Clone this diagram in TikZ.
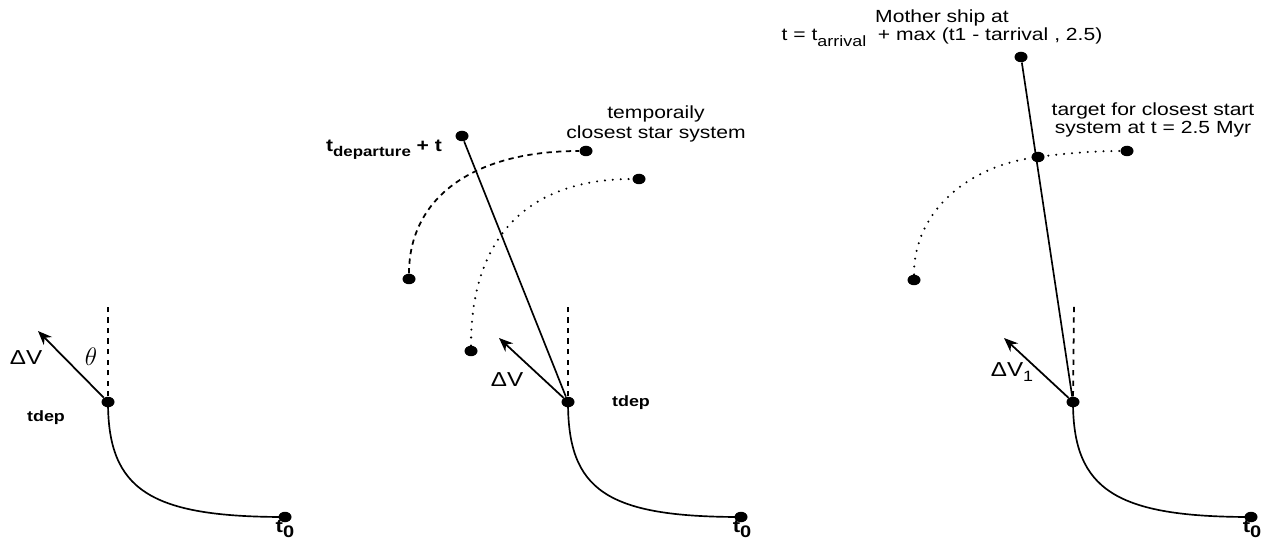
\documentclass[tikz,border=0pt]{standalone}
\usepackage{fontspec}
\setmainfont{Liberation Sans}[FakeStretch=1.2]
\usetikzlibrary{arrows.meta,shapes.geometric}
\newcommand{\lowsub}[2][8.5]{\raisebox{-3pt}{\fontsize{#1}{#1}\selectfont #2}}

\begin{document}
\begin{tikzpicture}[x=0.02cm,y=-0.02cm,
    dot/.style={ellipse,fill,inner sep=0pt,minimum width=0.26cm,minimum height=0.21cm},
    orbit/.style={line width=0.95pt},
    vec/.style={-{Stealth[length=8pt,width=6.5pt]},line width=1pt},
    vertical/.style={dashed,line width=1pt},
    dashedpath/.style={dash pattern=on 3pt off 2.5pt,line width=1pt},
    dottedpath/.style={line cap=round,dash pattern=on 0pt off 4.5pt,line width=1.3pt},
    lbl/.style={font=\fontsize{10}{10.5}\selectfont,align=center,inner sep=0pt},
    tlbl/.style={font=\bfseries\fontsize{8.5}{9}\selectfont,inner sep=0pt},
    zerolbl/.style={font=\bfseries\fontsize{10.5}{11}\selectfont,inner sep=0.5pt,anchor=south}]
    \useasboundingbox (0,0) rectangle (1270,540);

    % first panel
    \node[dot] (dep1) at (108,402) {};
    \node[dot] (start1) at (285,517) {};
    \coordinate (up1) at (108,303);
    \coordinate (tip1) at (38,331);
    \draw[orbit] (dep1.center) .. controls +(0,88) and +(-135,0) .. (start1.center);
    \draw[vertical] (dep1) -- (up1);
    \draw[vec] (dep1) -- (tip1);
    \node[lbl,font=\fontsize{11.5}{11}\selectfont] (dv1) at (26,358) {ΔV};
    \node[inner sep=0pt,font=\fontsize{14}{14}\selectfont] (theta) at (91,357) {$\theta$};
    \node[tlbl] (tdep1) at (46,418) {tdep};
    \node[zerolbl] (tzero1) at (285,539) {t\lowsub[9.5]{0}};

    % second panel
    \node[dot] (dep2) at (568,402) {};
    \node[dot] (start2) at (741,517) {};
    \node[dot] (top2) at (462,136) {};
    \node[dot] (nearA) at (409,279) {};
    \node[dot] (nearB) at (586,151) {};
    \node[dot] (farA) at (471,351) {};
    \node[dot] (farB) at (639,179) {};
    \coordinate (up2) at (568,303);
    \coordinate (tip2) at (499,338);
    \draw[orbit] (dep2.center) .. controls +(0,88) and +(-135,0) .. (start2.center);
    \draw[vertical] (dep2) -- (up2);
    \draw[vec] (dep2) -- (tip2);
    \draw[orbit] (dep2) -- (top2);
    \draw[dashedpath] (nearA) .. controls (409,200) and (470,151) .. (nearB);
    \draw[dottedpath] (farA) .. controls (471,235) and (530,179) .. (farB);
    \node[lbl,font=\fontsize{11.5}{11}\selectfont] (dv2) at (507,380) {ΔV};
    \node[tlbl] (tdep2) at (631,403) {tdep};
    \node[zerolbl] (tzero2) at (742,539) {t\lowsub[9.5]{0}};
    \node[tlbl,font=\bfseries\fontsize{10}{11}\selectfont] (tdepart) at (384,150) {t\lowsub[8]{departure} + t};
    \node[lbl,font=\fontsize{10}{11.5}\selectfont] (closest) at (656,124) {temporaily\\closest star system};

    % third panel
    \node[dot] (dep3) at (1073,402) {};
    \node[dot] (start3) at (1251,517) {};
    \node[dot] (ship) at (1021,57) {};
    \node[dot] (meet) at (1038,157) {};
    \node[dot] (trgA) at (914,280) {};
    \node[dot] (trgB) at (1127,151) {};
    \coordinate (up3) at (1074,303);
    \coordinate (tip3) at (1004,338);
    \draw[orbit] (dep3.center) .. controls +(0,88) and +(-135,0) .. (start3.center);
    \draw[vertical] (dep3) -- (up3);
    \draw[vec] (dep3) -- (tip3);
    \draw[orbit] (dep3) -- (ship);
    \draw[dottedpath] (trgA) .. controls +(0,-70) and +(-68,8) .. (meet.center)
        .. controls +(30,-4) and +(-30,0) .. (trgB);
    \node[lbl,font=\fontsize{11.5}{11}\selectfont] (dv3) at (1012,372) {ΔV\lowsub[8.5]{1}};
    \node[zerolbl] (tzero3) at (1252,539) {t\lowsub[9.5]{0}};
    \node[lbl] (mother) at (942,28) {Mother ship at\\t = t\lowsub{arrival}\ \ + max (t1 - tarrival , 2.5)};
    \node[lbl] (target) at (1153,120) {target for closest start\\system at t = 2.5 Myr};
\end{tikzpicture}
\end{document}
